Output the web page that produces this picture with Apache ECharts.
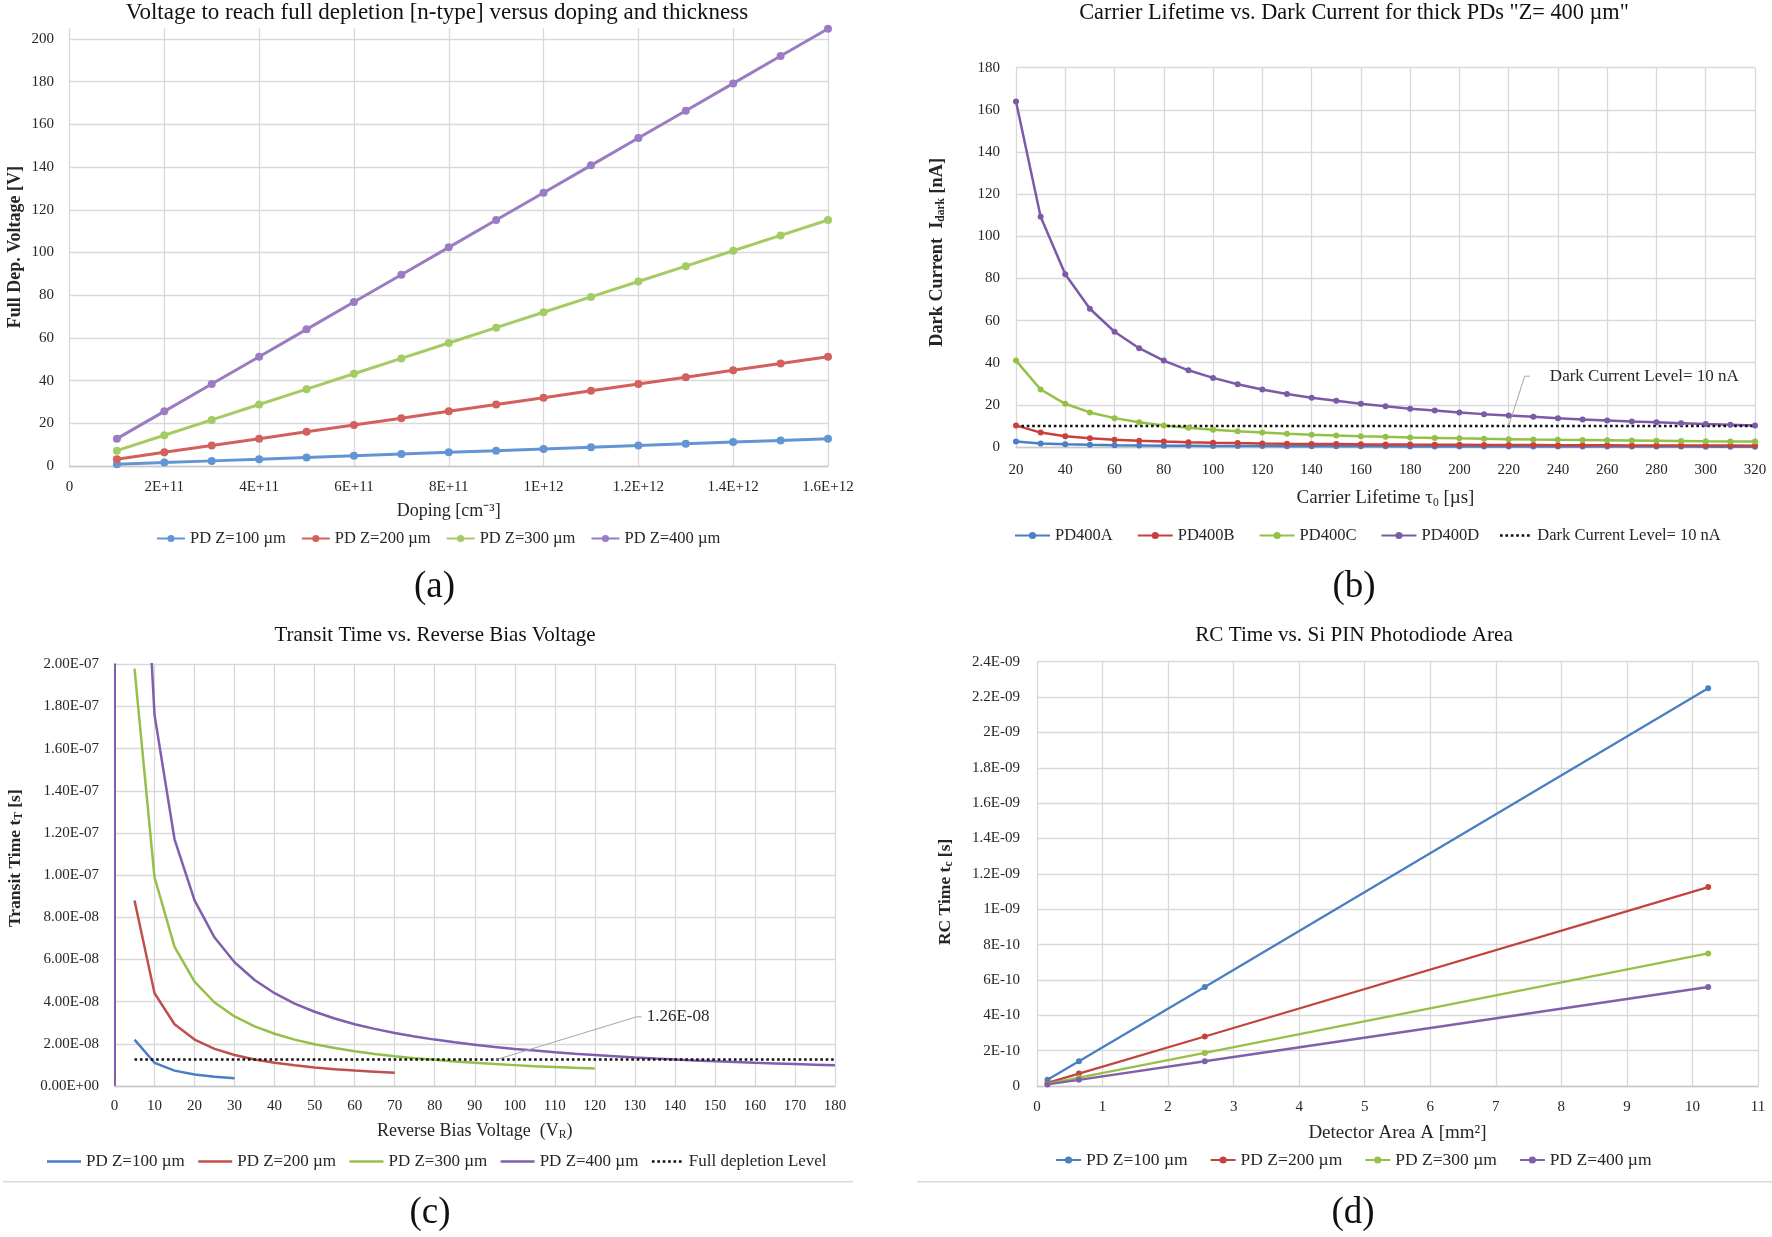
<!DOCTYPE html>
<html><head><meta charset="utf-8">
<script src="https://cdn.jsdelivr.net/npm/echarts@6/dist/echarts.min.js"></script>
<style>html,body{margin:0;padding:0;background:#fff}#c{width:1772px;height:1237px}</style>
</head><body><div id="c"></div><script>
// ---------- Panel (a): full depletion voltage vs doping ----------
const dopingLevels = [1e11,2e11,3e11,4e11,5e11,6e11,7e11,8e11,9e11,1e12,1.1e12,1.2e12,1.3e12,1.4e12,1.5e12,1.6e12];
const aZ100 = [0.8,1.6,2.4,3.2,4.0,4.8,5.6,6.4,7.2,8.0,8.8,9.6,10.4,11.2,12.0,12.8];
const aZ200 = [3.2,6.4,9.6,12.8,16.0,19.2,22.4,25.6,28.8,32.0,35.2,38.4,41.6,44.8,48.0,51.2];
const aZ300 = [7.2,14.4,21.6,28.8,36.0,43.2,50.4,57.6,64.8,72.0,79.2,86.4,93.6,100.8,108.0,115.2];
const aZ400 = [12.8,25.6,38.4,51.2,64.0,76.8,89.6,102.4,115.2,128.0,140.8,153.6,166.4,179.2,192.0,204.8];
const aXTickLabels = ['0','2E+11','4E+11','6E+11','8E+11','1E+12','1.2E+12','1.4E+12','1.6E+12'];
const aYTickLabels = ['0','20','40','60','80','100','120','140','160','180','200'];

// ---------- Panel (b): dark current vs carrier lifetime ----------
const lifetimes = [20,30,40,50,60,70,80,90,100,110,120,130,140,150,160,170,180,190,200,210,220,230,240,250,260,270,280,290,300,310,320];
const bPD400A = [2.56,1.71,1.28,1.03,0.85,0.73,0.64,0.57,0.51,0.47,0.43,0.39,0.37,0.34,0.32,0.30,0.28,0.27,0.26,0.24,0.23,0.22,0.21,0.21,0.20,0.19,0.18,0.18,0.17,0.17,0.16];
const bPD400B = [10.25,6.83,5.13,4.10,3.42,2.93,2.56,2.28,2.05,1.86,1.71,1.58,1.46,1.37,1.28,1.21,1.14,1.08,1.03,0.98,0.93,0.89,0.85,0.82,0.79,0.76,0.73,0.71,0.68,0.66,0.64];
const bPD400C = [41.0,27.3,20.5,16.4,13.7,11.7,10.25,9.1,8.2,7.45,6.83,6.3,5.86,5.47,5.13,4.82,4.56,4.32,4.1,3.9,3.73,3.57,3.42,3.28,3.15,3.03,2.93,2.83,2.73,2.65,2.56];
const bPD400D = [164.0,109.3,82.0,65.6,54.7,46.9,41.0,36.4,32.8,29.8,27.3,25.2,23.4,21.9,20.5,19.3,18.2,17.3,16.4,15.6,14.9,14.3,13.7,13.1,12.6,12.1,11.7,11.3,10.9,10.6,10.25];
const bDarkLevel = [[20,10],[320,10]];
const bLeader = [[220,10],[226.5,33.6],[228.6,33.6]];
const bYTickLabels = ['0','20','40','60','80','100','120','140','160','180'];

// ---------- Panel (c): transit time vs reverse bias ----------
const cV100 = [5,10,15,20,25,30];
const cT100 = [2.2e-8,1.1e-8,7.3e-9,5.5e-9,4.4e-9,3.7e-9];
const cV200 = [5,10,15,20,25,30,35,40,45,50,55,60,65,70];
const cT200 = [8.8e-8,4.4e-8,2.93e-8,2.2e-8,1.76e-8,1.47e-8,1.26e-8,1.1e-8,9.8e-9,8.8e-9,8.0e-9,7.3e-9,6.8e-9,6.3e-9];
const cV300 = [5,10,15,20,25,30,35,40,45,50,55,60,65,70,75,80,85,90,95,100,105,110,115,120];
const cT300 = [1.98e-7,9.9e-8,6.6e-8,4.95e-8,3.96e-8,3.3e-8,2.83e-8,2.48e-8,2.2e-8,1.98e-8,1.8e-8,1.65e-8,1.52e-8,1.41e-8,1.32e-8,1.24e-8,1.16e-8,1.1e-8,1.04e-8,9.9e-9,9.4e-9,9.0e-9,8.6e-9,8.25e-9];
const cV400 = [5,10,15,20,25,30,35,40,45,50,55,60,65,70,75,80,85,90,95,100,105,110,115,120,125,130,135,140,145,150,155,160,165,170,175,180];
const cT400 = [3.52e-7,1.76e-7,1.17e-7,8.8e-8,7.04e-8,5.87e-8,5.03e-8,4.4e-8,3.91e-8,3.52e-8,3.2e-8,2.93e-8,2.71e-8,2.51e-8,2.35e-8,2.2e-8,2.07e-8,1.96e-8,1.85e-8,1.76e-8,1.68e-8,1.6e-8,1.53e-8,1.47e-8,1.41e-8,1.35e-8,1.3e-8,1.26e-8,1.21e-8,1.17e-8,1.14e-8,1.1e-8,1.07e-8,1.04e-8,1.01e-8,9.8e-9];
const cFullDepletion = [[5,1.26e-8],[180,1.26e-8]];
const cLeader = [[95.6,1.26e-8],[130.4,3.28e-8],[131.7,3.28e-8]];
const cYTickLabels = ['0.00E+00','2.00E-08','4.00E-08','6.00E-08','8.00E-08','1.00E-07','1.20E-07','1.40E-07','1.60E-07','1.80E-07','2.00E-07'];

// ---------- Panel (d): RC time vs area ----------
const areas = [0.16,0.64,2.56,10.24];
const dZ100 = [3.5e-11,1.4e-10,5.6e-10,2.25e-9];
const dZ200 = [1.75e-11,7.0e-11,2.8e-10,1.125e-9];
const dZ300 = [1.2e-11,4.7e-11,1.87e-10,7.5e-10];
const dZ400 = [8.8e-12,3.5e-11,1.4e-10,5.6e-10];
const dYTickLabels = ['0','2E-10','4E-10','6E-10','8E-10','1E-09','1.2E-09','1.4E-09','1.6E-09','1.8E-09','2E-09','2.2E-09','2.4E-09'];

// ---------- helpers ----------
const FONT = 'Liberation Serif';
const TXT = '#262626';
const GRID = '#d9d9d9';
const DOTS = 'path://M0,0h1v1h-1zM2,0h1v1h-1zM4,0h1v1h-1zM6,0h1v1h-1zM8,0h1v1h-1zM10,0h1v1h-1z';
const pairs = (xs, ys) => ys.map((y, i) => [xs[i], y]);
const tickFmt = (labels, step) => v => {
  const i = Math.round(v / step);
  return Math.abs(v - i * step) < step * 1e-6 && labels[i] !== undefined ? labels[i] : '';
};
function axis(o) {
  return Object.assign({
    type: 'value',
    axisTick: { show: false },
    axisLine: { show: false },
    splitLine: { show: true, lineStyle: { color: GRID, width: 1.3 } },
    axisLabel: { fontFamily: FONT, fontSize: 15, color: TXT },
    nameLocation: 'middle',
    nameTextStyle: { fontFamily: FONT, fontSize: 18, color: TXT },
  }, o);
}
const xLine = { show: true, lineStyle: { color: '#c8c8c8', width: 1.3 } };
const subRich = (bold) => ({
  sub: { fontFamily: FONT, fontSize: 11.5, fontWeight: bold ? 'bold' : 'normal', color: TXT, verticalAlign: 'bottom', lineHeight: 14 }
});

const colA = ['#6395d5','#d3605c','#a4cb64','#9a7cc3'];
const colB = ['#4a7fc6','#c9403c','#92c145','#7d5aa8'];
const colC = ['#4a7ec2','#c0504d','#94c04a','#7f5fae'];
const colD = ['#4a7fc0','#c3443f','#98c048','#8060a8'];

function lineSeries(name, data, color, xi, width, symSize) {
  return {
    type: 'line', name, data, xAxisIndex: xi, yAxisIndex: xi,
    color,
    lineStyle: { color, width },
    itemStyle: { color },
    symbol: symSize ? 'circle' : 'none', symbolSize: symSize || 0, showSymbol: !!symSize,
    emphasis: { disabled: true }, silent: true, animation: false
  };
}
function legend(data, left, top, gap, iw, ih, fs) {
  return {
    data, left, top, padding: 0, itemGap: gap, itemWidth: iw, itemHeight: ih,
    selectedMode: false,
    formatter: n => n.split('|')[1],
    textStyle: { fontFamily: FONT, fontSize: fs, color: TXT }
  };
}
const NAMES4 = ['PD Z=100 µm','PD Z=200 µm','PD Z=300 µm','PD Z=400 µm'];

const chart = echarts.init(document.getElementById('c'), null, { renderer: 'canvas' });

const option = {
  animation: false,
  backgroundColor: '#fff',
  grid: [
    { left: 69.5, top: 28.3, width: 758.5, height: 437.7, containLabel: false, outerBoundsMode: 'none' },
    { left: 1016, top: 67.7, width: 739, height: 379.3, containLabel: false, outerBoundsMode: 'none' },
    { left: 114.5, top: 664.3, width: 720.5, height: 421.7, containLabel: false, outerBoundsMode: 'none' },
    { left: 1037, top: 661.7, width: 721, height: 424.3, containLabel: false, outerBoundsMode: 'none' }
  ],
  xAxis: [
    axis({ gridIndex: 0, min: 0, max: 1.6e12, interval: 2e11, axisLine: xLine,
      axisLabel: { fontFamily: FONT, fontSize: 15, color: TXT, margin: 13.5, formatter: tickFmt(aXTickLabels, 2e11) },
      name: 'Doping [cm⁻³]', nameGap: 36 }),
    axis({ gridIndex: 1, min: 20, max: 320, interval: 20, axisLine: xLine,
      axisLabel: { fontFamily: FONT, fontSize: 15, color: TXT, margin: 15.5 },
      name: 'Carrier Lifetime τ{sub|0} [µs]', nameGap: 40.5,
      nameTextStyle: { fontFamily: FONT, fontSize: 19, color: TXT, lineHeight: 21, rich: subRich(false) } }),
    axis({ gridIndex: 2, min: 0, max: 180, interval: 10, axisLine: xLine,
      axisLabel: { fontFamily: FONT, fontSize: 15, color: TXT, margin: 12.5 },
      name: 'Reverse Bias Voltage  (V{sub|R})', nameGap: 35,
      nameTextStyle: { fontFamily: FONT, fontSize: 18, color: TXT, lineHeight: 20, rich: subRich(false) } }),
    axis({ gridIndex: 3, min: 0, max: 11, interval: 1, axisLine: xLine,
      axisLabel: { fontFamily: FONT, fontSize: 15, color: TXT, margin: 14 },
      name: 'Detector Area A [mm²]', nameGap: 37.5,
      nameTextStyle: { fontFamily: FONT, fontSize: 19, color: TXT } })
  ],
  yAxis: [
    axis({ gridIndex: 0, min: 0, max: 205, interval: 20,
      splitLine: { show: true, showMaxLine: false, lineStyle: { color: GRID, width: 1.3 } },
      axisLabel: { fontFamily: FONT, fontSize: 15, color: TXT, margin: 15.5, showMaxLabel: false, formatter: tickFmt(aYTickLabels, 20) },
      name: 'Full Dep. Voltage [V]', nameGap: 45,
      nameTextStyle: { fontFamily: FONT, fontSize: 18, fontWeight: 'bold', color: TXT } }),
    axis({ gridIndex: 1, min: 0, max: 180, interval: 20,
      axisLabel: { fontFamily: FONT, fontSize: 15, color: TXT, margin: 16, formatter: tickFmt(bYTickLabels, 20) },
      name: 'Dark Current  I{sub|dark} [nA]', nameGap: 69,
      nameTextStyle: { fontFamily: FONT, fontSize: 18.3, fontWeight: 'bold', color: TXT, lineHeight: 20,
        padding: [0, 0, 0, 10], rich: subRich(true) } }),
    axis({ gridIndex: 2, min: 0, max: 2e-7, interval: 2e-8,
      axisLine: { show: true, lineStyle: { color: colC[3], width: 2 } },
      axisLabel: { fontFamily: FONT, fontSize: 15, color: TXT, margin: 15.5, formatter: tickFmt(cYTickLabels, 2e-8) },
      name: 'Transit Time t{sub|T} [s]', nameGap: 89.5,
      nameTextStyle: { fontFamily: FONT, fontSize: 17.5, fontWeight: 'bold', color: TXT, lineHeight: 20,
        padding: [0, 0, 0, 34], rich: subRich(true) } }),
    axis({ gridIndex: 3, min: 0, max: 2.4e-9, interval: 2e-10,
      axisLabel: { fontFamily: FONT, fontSize: 15, color: TXT, margin: 17, formatter: tickFmt(dYTickLabels, 2e-10) },
      name: 'RC Time t{sub|c} [s]', nameGap: 81.5,
      nameTextStyle: { fontFamily: FONT, fontSize: 17.5, fontWeight: 'bold', color: TXT, lineHeight: 20,
        padding: [0, 36, 0, 0], rich: subRich(true) } })
  ],
  legend: [
    legend(NAMES4.map(n => 'a|' + n), 156, 530, 15, 28, 9, 16.5),
    legend(['b|PD400A','b|PD400B','b|PD400C','b|PD400D'], 1014, 527, 24, 35, 9, 16.5),
    legend([{ name: 'b|Dark Current Level= 10 nA', icon: DOTS }], 1500, 527, 10, 35, 2.7, 16.5),
    legend(NAMES4.map(n => ({ name: 'c|' + n, icon: 'rect' })).concat([{ name: 'c|Full depletion Level', icon: DOTS }]),
      47, 1153, 13.5, 34, 2.7, 17),
    legend(NAMES4.map(n => 'd|' + n), 1055, 1151, 22, 25, 9, 17.5)
  ],
  series: [
    lineSeries('a|' + NAMES4[0], pairs(dopingLevels, aZ100), colA[0], 0, 3, 8),
    lineSeries('a|' + NAMES4[1], pairs(dopingLevels, aZ200), colA[1], 0, 3, 8),
    lineSeries('a|' + NAMES4[2], pairs(dopingLevels, aZ300), colA[2], 0, 3, 8),
    lineSeries('a|' + NAMES4[3], pairs(dopingLevels, aZ400), colA[3], 0, 3, 8),

    lineSeries('b|PD400A', pairs(lifetimes, bPD400A), colB[0], 1, 2.5, 6),
    lineSeries('b|PD400B', pairs(lifetimes, bPD400B), colB[1], 1, 2.5, 6),
    lineSeries('b|PD400C', pairs(lifetimes, bPD400C), colB[2], 1, 2.5, 6),
    lineSeries('b|PD400D', pairs(lifetimes, bPD400D), colB[3], 1, 2.5, 6),
    Object.assign(lineSeries('b|Dark Current Level= 10 nA', bDarkLevel, '#111', 1, 2.6, 0),
      { lineStyle: { color: '#111', width: 2.6, type: [2.6, 2.8] }, z: 3 }),
    Object.assign(lineSeries('b|leader', bLeader, '#a6a6a6', 1, 1, 0), {
      endLabel: { show: true, formatter: 'Dark Current Level= 10 nA', distance: 20,
        fontFamily: FONT, fontSize: 17, color: TXT } }),

    lineSeries('c|' + NAMES4[0], pairs(cV100, cT100), colC[0], 2, 2.5, 0),
    lineSeries('c|' + NAMES4[1], pairs(cV200, cT200), colC[1], 2, 2.5, 0),
    lineSeries('c|' + NAMES4[2], pairs(cV300, cT300), colC[2], 2, 2.5, 0),
    lineSeries('c|' + NAMES4[3], pairs(cV400, cT400), colC[3], 2, 2.5, 0),
    Object.assign(lineSeries('c|Full depletion Level', cFullDepletion, '#111', 2, 2.6, 0),
      { lineStyle: { color: '#111', width: 2.6, type: [2.6, 2.8] }, z: 3 }),
    Object.assign(lineSeries('c|leader', cLeader, '#a6a6a6', 2, 1, 0), {
      endLabel: { show: true, formatter: '1.26E-08', distance: 5,
        fontFamily: FONT, fontSize: 17, color: TXT } }),

    lineSeries('d|' + NAMES4[0], pairs(areas, dZ100), colD[0], 3, 2.3, 6),
    lineSeries('d|' + NAMES4[1], pairs(areas, dZ200), colD[1], 3, 2.3, 6),
    lineSeries('d|' + NAMES4[2], pairs(areas, dZ300), colD[2], 3, 2.3, 6),
    lineSeries('d|' + NAMES4[3], pairs(areas, dZ400), colD[3], 3, 2.3, 6)
  ],
  graphic: [
    ['Voltage to reach full depletion [n-type] versus doping and thickness', 437, 13, 23],
    ['Carrier Lifetime vs. Dark Current for thick PDs "Z= 400 µm"', 1354, 13, 22.3],
    ['Transit Time vs. Reverse Bias Voltage', 435, 635, 21],
    ['RC Time vs. Si PIN Photodiode Area', 1354, 635, 21.2],
    ['(a)', 434.5, 587, 37],
    ['(b)', 1354, 587, 37],
    ['(c)', 430, 1213, 37],
    ['(d)', 1353, 1213, 37]
  ].map(([t, x, y, fs]) => ({
    type: 'text', x, y, silent: true,
    style: { text: t, fontFamily: FONT, fontSize: fs, fill: '#111',
      align: 'center', verticalAlign: 'middle', textAlign: 'center', textVerticalAlign: 'middle' }
  })).concat([
    { type: 'line', silent: true, shape: { x1: 3, y1: 1181.7, x2: 853, y2: 1181.7 }, style: { stroke: '#d9d9d9', lineWidth: 1.5 } },
    { type: 'line', silent: true, shape: { x1: 917, y1: 1181.7, x2: 1772, y2: 1181.7 }, style: { stroke: '#d9d9d9', lineWidth: 1.5 } }
  ])
};
chart.setOption(option);
</script></body></html>
